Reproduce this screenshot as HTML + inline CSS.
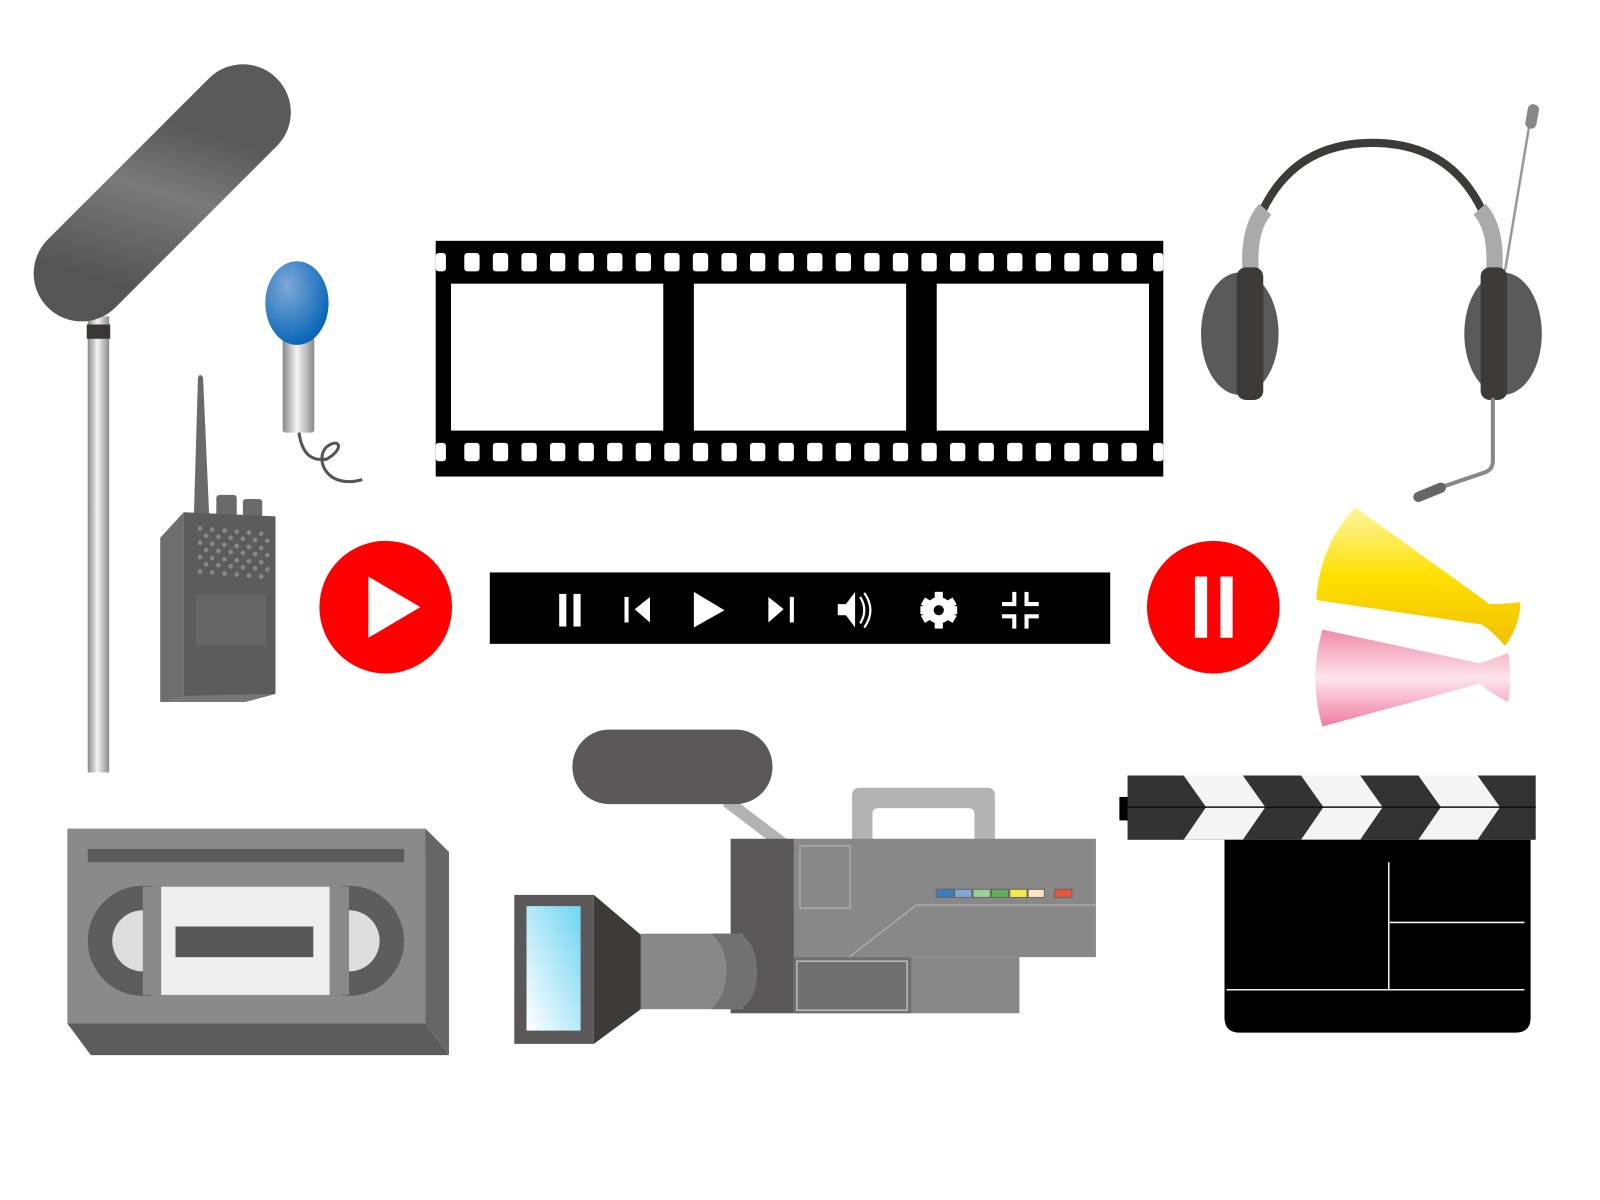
<!DOCTYPE html>
<html><head><meta charset="utf-8"><style>html,body{margin:0;padding:0;background:#fff}svg{display:block}</style></head>
<body>
<svg width="1600" height="1200" viewBox="0 0 1568 1176" preserveAspectRatio="none" xmlns="http://www.w3.org/2000/svg">
<defs>
<linearGradient id="silver" x1="0" x2="1" y1="0" y2="0"><stop offset="0" stop-color="#888"/><stop offset="0.45" stop-color="#f4f4f4"/><stop offset="1" stop-color="#8a8a8a"/></linearGradient>
<linearGradient id="boom" x1="0" y1="1" x2="0.3" y2="0"><stop offset="0" stop-color="#555"/><stop offset="0.6" stop-color="#7a7a7a"/><stop offset="1" stop-color="#5a5a5a"/></linearGradient>
<radialGradient id="blue" cx="0.35" cy="0.3" r="0.7"><stop offset="0" stop-color="#7fa9d9"/><stop offset="1" stop-color="#0a67b8"/></radialGradient>
<linearGradient id="yel" x1="0" y1="0" x2="0" y2="1"><stop offset="0" stop-color="#fff6a0"/><stop offset="0.5" stop-color="#ffe000"/><stop offset="1" stop-color="#f0c000"/></linearGradient>
<linearGradient id="pink" x1="0" y1="0" x2="0" y2="1"><stop offset="0" stop-color="#f08aa8"/><stop offset="0.5" stop-color="#fde6ee"/><stop offset="1" stop-color="#f07aa0"/></linearGradient>
<linearGradient id="scr" x1="1" y1="0" x2="0" y2="1"><stop offset="0" stop-color="#6fd4f2"/><stop offset="1" stop-color="#ffffff"/></linearGradient>
</defs>

<!-- boom mic -->
<rect x="86" y="310" width="21" height="447" fill="url(#silver)"/>
<rect x="85" y="318" width="23" height="14" fill="#3a3636"/>
<line x1="80" y1="268" x2="238" y2="110" stroke="url(#boom)" stroke-width="94" stroke-linecap="round"/>

<!-- blue mic -->
<rect x="277" y="330" width="31" height="94" rx="3" fill="url(#silver)"/>
<ellipse cx="291" cy="297" rx="31" ry="41" fill="url(#blue)"/>
<path d="M293 424 C296 445 305 452 320 450 C338 440 333 428 320 438 C308 450 320 480 355 470" fill="none" stroke="#555" stroke-width="3"/>

<!-- walkie talkie -->
<path d="M190 505 L194 370 Q196 365 199 370 L205 505 Z" fill="#6a6a6a"/>
<rect x="212" y="485" width="20" height="22" rx="3" fill="#6a6a6a"/>
<rect x="238" y="489" width="19" height="18" rx="3" fill="#6a6a6a"/>
<polygon points="157,527 180,502 180,688 157,688" fill="#6e6e6e"/>
<polygon points="180,502 270,506 270,680 240,688 180,688" fill="#5c5c5c"/>
<polygon points="157,688 240,688 270,680 180,682" fill="#777"/>
<g fill="#888">
<circle cx="196" cy="518" r="2.3"/><circle cx="208" cy="519" r="2.3"/><circle cx="220" cy="520" r="2.3"/><circle cx="232" cy="521" r="2.3"/><circle cx="244" cy="522" r="2.3"/><circle cx="256" cy="523" r="2.3"/>
<circle cx="202" cy="525" r="2.3"/><circle cx="214" cy="526" r="2.3"/><circle cx="226" cy="527" r="2.3"/><circle cx="238" cy="528" r="2.3"/><circle cx="250" cy="529" r="2.3"/><circle cx="262" cy="530" r="2.3"/>
<circle cx="196" cy="532" r="2.3"/><circle cx="208" cy="533" r="2.3"/><circle cx="220" cy="534" r="2.3"/><circle cx="232" cy="535" r="2.3"/><circle cx="244" cy="536" r="2.3"/><circle cx="256" cy="537" r="2.3"/>
<circle cx="202" cy="539" r="2.3"/><circle cx="214" cy="540" r="2.3"/><circle cx="226" cy="541" r="2.3"/><circle cx="238" cy="542" r="2.3"/><circle cx="250" cy="543" r="2.3"/><circle cx="262" cy="544" r="2.3"/>
<circle cx="196" cy="546" r="2.3"/><circle cx="208" cy="547" r="2.3"/><circle cx="220" cy="548" r="2.3"/><circle cx="232" cy="549" r="2.3"/><circle cx="244" cy="550" r="2.3"/><circle cx="256" cy="551" r="2.3"/>
<circle cx="202" cy="553" r="2.3"/><circle cx="214" cy="554" r="2.3"/><circle cx="226" cy="555" r="2.3"/><circle cx="238" cy="556" r="2.3"/><circle cx="250" cy="557" r="2.3"/><circle cx="262" cy="558" r="2.3"/>
<circle cx="196" cy="560" r="2.3"/><circle cx="208" cy="561" r="2.3"/><circle cx="220" cy="562" r="2.3"/><circle cx="232" cy="563" r="2.3"/><circle cx="244" cy="564" r="2.3"/><circle cx="256" cy="565" r="2.3"/>
</g>
<rect x="192" y="583" width="69" height="50" fill="#666"/>

<!-- play circle -->
<circle cx="378" cy="595" r="65" fill="#f00"/>
<polygon points="361,565 412,595 361,625" fill="#fff"/>

<!-- control bar -->
<rect x="480" y="561" width="608" height="70" fill="#000"/>
<g fill="#fff">
<rect x="548" y="582" width="7" height="32"/><rect x="562" y="582" width="7" height="32"/>
<rect x="612" y="585" width="4" height="25"/><polygon points="637,585 637,610 622,597"/>
<polygon points="680,580 710,598 680,615"/>
<polygon points="753,585 768,597 753,610"/><rect x="774" y="585" width="4" height="25"/>
<polygon points="821,592 829,592 838,580 838,615 829,603 821,603"/>
<circle cx="920" cy="598" r="13"/>
<rect x="916" y="580" width="8" height="36"/><rect x="902" y="594" width="36" height="8"/>
<rect x="916" y="580" width="8" height="36" transform="rotate(60 920 598)"/><rect x="916" y="580" width="8" height="36" transform="rotate(-60 920 598)"/>
<path d="M992 580 h4 v14 h-14 v-4 h10 Z M1004 580 h4 v10 h10 v4 h-14 Z M982 602 h14 v14 h-4 v-10 h-10 Z M1004 602 h14 v4 h-10 v10 h-4 Z"/>
</g>
<circle cx="920" cy="598" r="5" fill="#000"/>
<path d="M843 585 Q851 598 843 611 M847 581 Q859 598 847 615" fill="none" stroke="#fff" stroke-width="2.2"/>

<!-- film strip -->
<rect x="427" y="236" width="713" height="231" fill="#000"/>
<g fill="#fff">
<rect x="442" y="278" width="208" height="144"/><rect x="680" y="278" width="208" height="144"/><rect x="918" y="278" width="208" height="144"/>
<rect x="427" y="248" width="10" height="18" rx="3"/><rect x="1130" y="248" width="10" height="18" rx="3"/>
<rect x="427" y="434" width="10" height="18" rx="3"/><rect x="1130" y="434" width="10" height="18" rx="3"/>
</g>
<g fill="#fff" id="holes">
<rect x="455" y="248" width="15" height="18" rx="3"/><rect x="483" y="248" width="15" height="18" rx="3"/><rect x="511" y="248" width="15" height="18" rx="3"/><rect x="539" y="248" width="15" height="18" rx="3"/><rect x="567" y="248" width="15" height="18" rx="3"/><rect x="595" y="248" width="15" height="18" rx="3"/><rect x="623" y="248" width="15" height="18" rx="3"/><rect x="651" y="248" width="15" height="18" rx="3"/><rect x="679" y="248" width="15" height="18" rx="3"/><rect x="707" y="248" width="15" height="18" rx="3"/><rect x="735" y="248" width="15" height="18" rx="3"/><rect x="763" y="248" width="15" height="18" rx="3"/><rect x="791" y="248" width="15" height="18" rx="3"/><rect x="819" y="248" width="15" height="18" rx="3"/><rect x="847" y="248" width="15" height="18" rx="3"/><rect x="875" y="248" width="15" height="18" rx="3"/><rect x="903" y="248" width="15" height="18" rx="3"/><rect x="931" y="248" width="15" height="18" rx="3"/><rect x="959" y="248" width="15" height="18" rx="3"/><rect x="987" y="248" width="15" height="18" rx="3"/><rect x="1015" y="248" width="15" height="18" rx="3"/><rect x="1043" y="248" width="15" height="18" rx="3"/><rect x="1071" y="248" width="15" height="18" rx="3"/><rect x="1099" y="248" width="15" height="18" rx="3"/>
</g>
<use href="#holes" y="186"/>

<!-- pause circle -->
<circle cx="1189" cy="595" r="65" fill="#f00"/>
<rect x="1171" y="565" width="12" height="60" fill="#fff"/><rect x="1196" y="565" width="12" height="60" fill="#fff"/>

<!-- headphones -->
<path d="M1238 205 Q1270 140 1345 140 Q1420 140 1452 205" fill="none" stroke="#3d3a3a" stroke-width="8"/>
<path d="M1226 270 Q1222 225 1240 205 M1464 270 Q1468 225 1450 205" fill="none" stroke="#aaa" stroke-width="16"/>
<line x1="1475" y1="265" x2="1500" y2="115" stroke="#999" stroke-width="2.5"/>
<rect x="1496" y="102" width="11" height="24" rx="5" fill="#888" transform="rotate(10 1501 114)"/>
<ellipse cx="1215" cy="327" rx="38" ry="60" fill="#5a5a5a"/>
<rect x="1212" y="262" width="26" height="130" rx="9" fill="#3d3a3a"/>
<ellipse cx="1473" cy="327" rx="38" ry="60" fill="#5a5a5a"/>
<rect x="1451" y="262" width="26" height="130" rx="9" fill="#3d3a3a"/>
<path d="M1463 390 L1463 452 Q1463 460 1455 463 L1405 480" fill="none" stroke="#888" stroke-width="4"/>
<line x1="1390" y1="487" x2="1412" y2="478" stroke="#666" stroke-width="10" stroke-linecap="round"/>

<!-- megaphones -->
<path d="M1328 497 L1460 592 Q1478 592 1490 590 Q1490 612 1475 633 Q1462 618 1452 612 L1290 588 Q1293 535 1328 497 Z" fill="url(#yel)"/>
<path d="M1296 617 L1450 650 Q1465 645 1478 640 Q1482 665 1478 688 Q1462 680 1450 670 L1296 712 Q1282 665 1296 617 Z" fill="url(#pink)"/>

<!-- clapperboard -->
<rect x="1097" y="781" width="10" height="23" fill="#000"/>
<rect x="1105" y="760" width="400" height="63" fill="#333"/>
<g fill="#f4f4f4">
<polygon points="1160,760 1218,760 1240,791 1218,823 1160,823 1182,791"/>
<polygon points="1275,760 1333,760 1355,791 1333,823 1275,823 1297,791"/>
<polygon points="1390,760 1448,760 1470,791 1448,823 1390,823 1412,791"/>
</g>
<line x1="1105" y1="791" x2="1505" y2="791" stroke="#111" stroke-width="1.5"/>
<path d="M1200 823 H1500 V997 Q1500 1012 1485 1012 H1215 Q1200 1012 1200 997 Z" fill="#000"/>
<g stroke="#eee" stroke-width="1.5"><line x1="1361" y1="845" x2="1361" y2="970"/><line x1="1362" y1="904" x2="1494" y2="904"/><line x1="1202" y1="970" x2="1494" y2="970"/></g>

<!-- VHS -->
<rect x="66" y="812" width="351" height="191" fill="#8a8a8a"/>
<polygon points="417,812 440,835 440,1034 417,1003" fill="#666"/>
<polygon points="66,1003 417,1003 440,1034 89,1034" fill="#5c5c5c"/>
<rect x="86" y="832" width="310" height="13" fill="#5a5a5a"/>
<circle cx="140" cy="922" r="54" fill="#5d5d5d"/>
<circle cx="140" cy="922" r="30" fill="#ddd"/>
<circle cx="342" cy="922" r="54" fill="#5d5d5d"/>
<circle cx="342" cy="922" r="30" fill="#ddd"/>
<rect x="140" y="869" width="202" height="106" fill="#8a8a8a"/>
<rect x="158" y="869" width="165" height="106" fill="#eee"/>
<rect x="172" y="908" width="135" height="30" fill="#555"/>

<!-- camcorder -->
<line x1="712" y1="785" x2="778" y2="835" stroke="#b3b3b3" stroke-width="12"/>
<rect x="561" y="715" width="196" height="73" rx="36" fill="#5a5858"/>
<path d="M835 823 V780 Q835 772 843 772 H967 Q975 772 975 780 V823 H955 V798 Q955 792 949 792 H861 Q855 792 855 798 V823 Z" fill="#b3b3b3"/>
<rect x="778" y="822" width="296" height="116" fill="#888"/>
<rect x="778" y="938" width="221" height="55" fill="#888"/>
<rect x="716" y="822" width="62" height="171" fill="#5a5858"/>
<rect x="784" y="829" width="49" height="61" fill="none" stroke="#aaa" stroke-width="1.5"/>
<rect x="778" y="938" width="115" height="55" fill="#6f6f6f"/>
<rect x="781" y="942" width="108" height="48" fill="none" stroke="#bbb" stroke-width="1.5"/>
<polyline points="832,938 898,887 1074,887" fill="none" stroke="#aaa" stroke-width="1.5"/>
<rect x="917" y="871" width="107" height="9" fill="#666"/>
<rect x="918" y="872" width="16" height="7" fill="#3a7fc4"/><rect x="936" y="872" width="16" height="7" fill="#7ea6d8"/><rect x="954" y="872" width="16" height="7" fill="#9ccf95"/><rect x="972" y="872" width="16" height="7" fill="#5eae5a"/><rect x="990" y="872" width="16" height="7" fill="#f5ea48"/><rect x="1008" y="872" width="15" height="7" fill="#fbe3c4"/>
<rect x="1033" y="871" width="18" height="9" fill="#666"/><rect x="1034" y="872" width="16" height="7" fill="#e8573a"/>
<rect x="628" y="915" width="100" height="74" fill="#888"/>
<path d="M697 915 H725 Q742 925 742 952 Q742 980 725 989 H697 Q712 975 712 952 Q712 928 697 915 Z" fill="#717171"/>
<polygon points="582,877 628,916 628,989 582,1023" fill="#3d3a3a"/>
<rect x="504" y="877" width="78" height="146" fill="#5a5858"/>
<rect x="516" y="888" width="53" height="122" fill="url(#scr)"/>
</svg>
</body></html>
